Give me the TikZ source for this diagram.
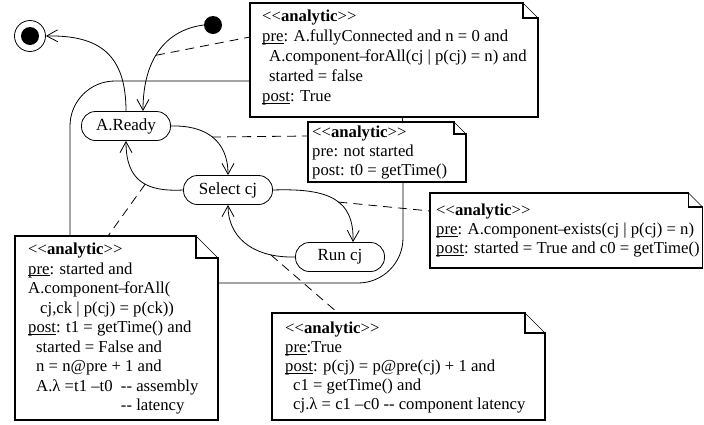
\documentclass[tikz,border=0pt]{standalone}
\usepackage{fontspec}
\setmainfont{Liberation Serif}
\usetikzlibrary{arrows.meta}
\newcommand\stereo[1]{<\kern0pt<\textbf{#1}>\kern0pt>}
\newcommand\uln[1]{\setbox0\hbox{#1}\rlap{\rule[-1.8pt]{\wd0}{0.7pt}}\box0}
\newcommand\mynote[5]{%
  \fill[white] (#1,#2) -- (#3-#5,#2) -- (#3,#2+#5) -- (#3,#4) -- (#1,#4) -- cycle;
  \draw[line width=1.6pt,line join=miter] (#3-#5,#2) -- (#1,#2) -- (#1,#4) -- (#3,#4) -- (#3,#2+#5) -- (#3-#5,#2+#5) -- cycle;
  \draw[line width=0.7pt] (#3-#5,#2) -- (#3,#2+#5);
}
\begin{document}
\begin{tikzpicture}[x=1pt,y=-1pt,
  conn/.style={line width=0.8pt},
  arr/.style={conn,-{Straight Barb[length=11pt,width=12pt,line width=0.8pt]}},
  dsh/.style={line width=0.8pt,dash pattern=on 9pt off 6pt},
  state/.style={draw,line width=0.8pt,rounded corners=14pt,minimum width=89pt,minimum height=29pt,inner sep=0pt,font=\fontsize{17}{19}\selectfont},
  notetext/.style={anchor=north west,inner sep=0pt,align=left,font=\fontsize{16.7}{19}\selectfont},
]
\useasboundingbox (0,0) rectangle (704,424);

% composite boundary
\draw[conn,rounded corners=45pt] (70,81) rectangle (403,283);

% states
\node[state] (ready) at (126,126) {A.Ready};
\node[state] (select) at (228,190) {Select cj};
\node[state] (run) at (340,257) {Run cj};
\node[circle,fill,inner sep=0pt,minimum size=18pt] (init) at (213,25) {};
\node[circle,draw,line width=0.8pt,fill=white,inner sep=0pt,minimum size=31pt] (final) at (30,36) {};
\node[circle,fill,inner sep=0pt,minimum size=18pt] (finaldot) at (final.center) {};

% transitions
\draw[arr] (init.west) .. controls (165,30) and (143,60) .. coordinate[pos=0.55] (ca) ([xshift=17pt]ready.north);
\draw[arr] (ready.north) .. controls (126,55) and (100,35) .. (final.east);
\draw[arr] (ready.east) .. controls (205,125) and (228,140) .. coordinate[pos=0.5] (cb) (select.north);
\draw[arr] (select.west) .. controls (145,192) and (126,180) .. coordinate[pos=0.42] (cd) (ready.south);
\draw[arr] (select.east) .. controls (330,188) and (354,200) .. coordinate[pos=0.55] (cc) ([xshift=13pt]run.north);
\draw[arr] (run.west) .. controls (250,258) and (228,235) .. coordinate[pos=0.2] (ce) (select.south);

% note anchor points
\coordinate (na) at (250,37);
\coordinate (nb) at (308,136);
\coordinate (nc) at (430,211);
\coordinate (nd) at (108,236);
\coordinate (ne) at (338,313);

\draw[dsh] (ca) -- (na);
\draw[dsh] (cb) -- (nb);
\draw[dsh] (cc) -- (nc);
\draw[dsh] (cd) -- (nd);
\draw[dsh] (ce) -- (ne);

% notes
\mynote{250}{3}{538}{117}{15}
\mynote{308}{122}{466}{182}{12}
\mynote{430}{193}{702.5}{268}{14}
\mynote{15}{236}{218}{420}{22}
\mynote{272}{313}{545}{420}{20}

\node[notetext,font=\fontsize{16.7}{20}\selectfont] (n1) at (262,10) {\stereo{analytic}\\
\uln{pre}: A.fullyConnected and n = 0 and\\
\hspace*{7pt}A.component–\kern-3pt forAll(cj | p(cj) = n) and\\
\hspace*{7pt}started = false\\
\uln{post}: True};

\node[notetext] (n2) at (312,126) {\stereo{analytic}\\
pre: not started\\
post: t0 = getTime()};

\node[notetext] (n3) at (436,204) {\stereo{analytic}\\
\uln{pre}: A.component–\kern-3pt exists(cj | p(cj) = n)\\
\uln{post}: started = True and c0 = getTime()};

\node[notetext,font=\fontsize{16.7}{19.5}\selectfont] (n4) at (28,243) {\stereo{analytic}\\
\uln{pre}: started and\\
A.component–\kern-3pt forAll(\\
\hspace*{12pt}cj,ck | p(cj) = p(ck))\\
\uln{post}: t1 = getTime() and\\
\hspace*{8pt}started = False and\\
\hspace*{8pt}n = n@pre + 1 and\\
\hspace*{8pt}A.λ =t1 –t0 \ -\kern0pt- assembly\\
\hspace*{8pt}\phantom{A.λ =t1 –t0 \ }-\kern0pt- latency};

\node[notetext] (n5) at (285,322) {\stereo{analytic}\\
\uln{pre}:True\\
\uln{post}: p(cj) = p@pre(cj) + 1 and\\
\hspace*{8pt}c1 = getTime() and\\
\hspace*{8pt}cj.λ = c1 –c0 -\kern0pt- component latency};
\end{tikzpicture}
\end{document}
